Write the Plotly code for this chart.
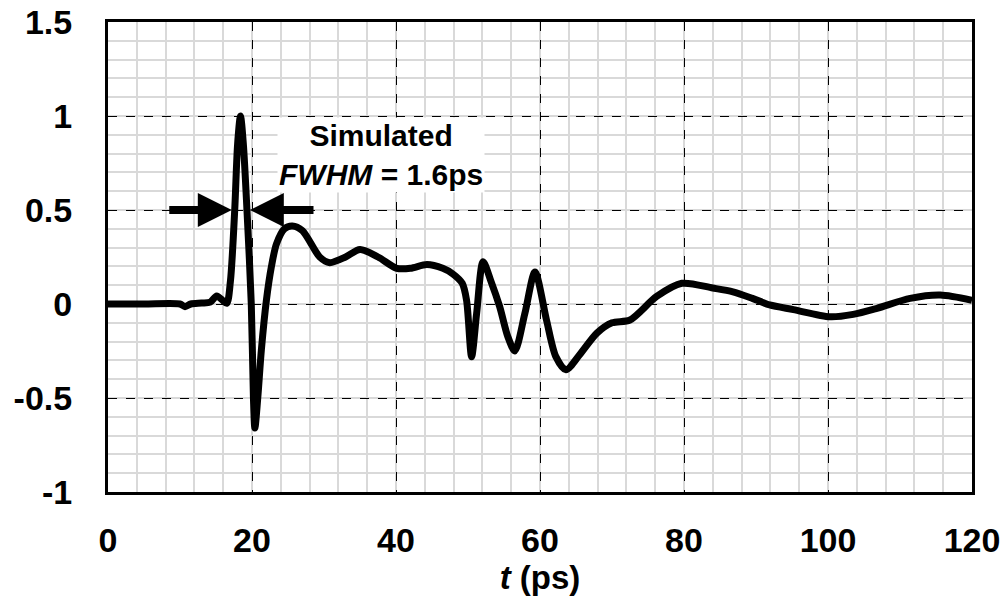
import plotly.graph_objects as go

# ---- data ----
t_ps = [0, 5, 10, 10.7, 11.5, 13, 14.2, 15.1, 15.9, 16.5, 17.0, 17.6, 18.0, 18.4,
        18.8, 19.3, 19.9, 20.2, 20.4, 20.8, 21.3, 22.0, 22.7, 23.4, 24.5, 25.6,
        27.0, 29.4, 30.8, 33.0, 35.0, 37.5, 40.1, 42.0, 44.3, 46.5, 47.9, 49.2,
        49.8, 50.5, 51.2, 52.1, 53.2, 54.4, 55.5, 56.5, 57.9, 59.3, 60.9, 62.2,
        63.6, 65.5, 67.9, 70.0, 72.5, 76.2, 79.7, 84.0, 86.8, 89.5, 91.9, 95.2,
        100.3, 103.5, 106.8, 111.4, 115.6, 120]
signal = [0, 0, 0, -0.014, 0, 0.005, 0.01, 0.043, 0.02, 0.004, 0.12, 0.5, 0.85, 1.0,
          0.85, 0.5, 0.0, -0.5, -0.66, -0.5, -0.245, 0.02, 0.2, 0.32, 0.4, 0.415,
          0.39, 0.25, 0.22, 0.25, 0.29, 0.25, 0.19, 0.19, 0.21, 0.19, 0.16, 0.11,
          0.02, -0.28, -0.05, 0.225, 0.12, -0.014, -0.17, -0.25, -0.05, 0.17, -0.085, -0.28,
          -0.35, -0.27, -0.155, -0.10, -0.085, 0.04, 0.11, 0.085, 0.065, 0.03, -0.005, -0.03,
          -0.068, -0.055, -0.023, 0.03, 0.048, 0.02]

x_tickvals = [0, 20, 40, 60, 80, 100, 120]
x_ticktext = ["0", "20", "40", "60", "80", "100", "120"]
y_tickvals = [-1, -0.5, 0, 0.5, 1, 1.5]
y_ticktext = ["-1", "-0.5", "0", "0.5", "1", "1.5"]

fwhm_level = 0.5
fwhm_left_tip, fwhm_left_tail = 17.2, 8.3
fwhm_right_tip, fwhm_right_tail = 19.7, 28.75

FONT = "Arial, Liberation Sans, sans-serif"

fig = go.Figure()
fig.add_trace(go.Scatter(
    x=t_ps, y=signal, mode="lines",
    line=dict(color="black", width=7, shape="spline", smoothing=0.8),
    hoverinfo="skip", showlegend=False))

axis_common = dict(
    showline=True, linecolor="black", linewidth=3, mirror=True,
    showgrid=True, gridcolor="black", gridwidth=1.3, griddash="dash",
    zeroline=False, ticks="", automargin=False,
    tickfont=dict(family=FONT, size=34, color="black", weight="bold"),
)

fig.update_xaxes(
    range=[0, 120], tickmode="array", tickvals=x_tickvals, ticktext=x_ticktext,
    minor=dict(dtick=4, tick0=0, showgrid=True, gridcolor="#d9d9d9", gridwidth=2,
               griddash="solid"),
    ticklabelstandoff=16,
    title=dict(text="<i>t</i> (ps)", font=dict(family=FONT, size=33, color="black", weight="bold"),
               standoff=0),
    **axis_common)
fig.update_yaxes(
    range=[-1, 1.5], tickmode="array", tickvals=y_tickvals, ticktext=y_ticktext,
    minor=dict(dtick=0.1, tick0=0, showgrid=True, gridcolor="#d9d9d9", gridwidth=2,
               griddash="solid"),
    ticklabelstandoff=26,
    **axis_common)

fig.add_annotation(
    x=(fwhm_left_tip + fwhm_right_tail) / 2 + 15, y=0.79, xref="x", yref="y",
    text="Simulated<br><i>FWHM</i> = 1.6ps", showarrow=False,
    font=dict(family=FONT, size=30, color="black", weight="bold"),
    bgcolor="white", align="center")

for tip, tail in [(fwhm_left_tip, fwhm_left_tail), (fwhm_right_tip, fwhm_right_tail)]:
    fig.add_annotation(
        x=tip, y=fwhm_level, ax=tail, ay=fwhm_level,
        xref="x", yref="y", axref="x", ayref="y",
        text="", showarrow=True, arrowhead=2, arrowsize=0.85, arrowwidth=8,
        arrowcolor="black", standoff=0)

fig.update_layout(
    width=1008, height=600,
    margin=dict(l=108, r=36, t=22, b=108),
    paper_bgcolor="white", plot_bgcolor="white",
)

fig.write_html("out.html")
